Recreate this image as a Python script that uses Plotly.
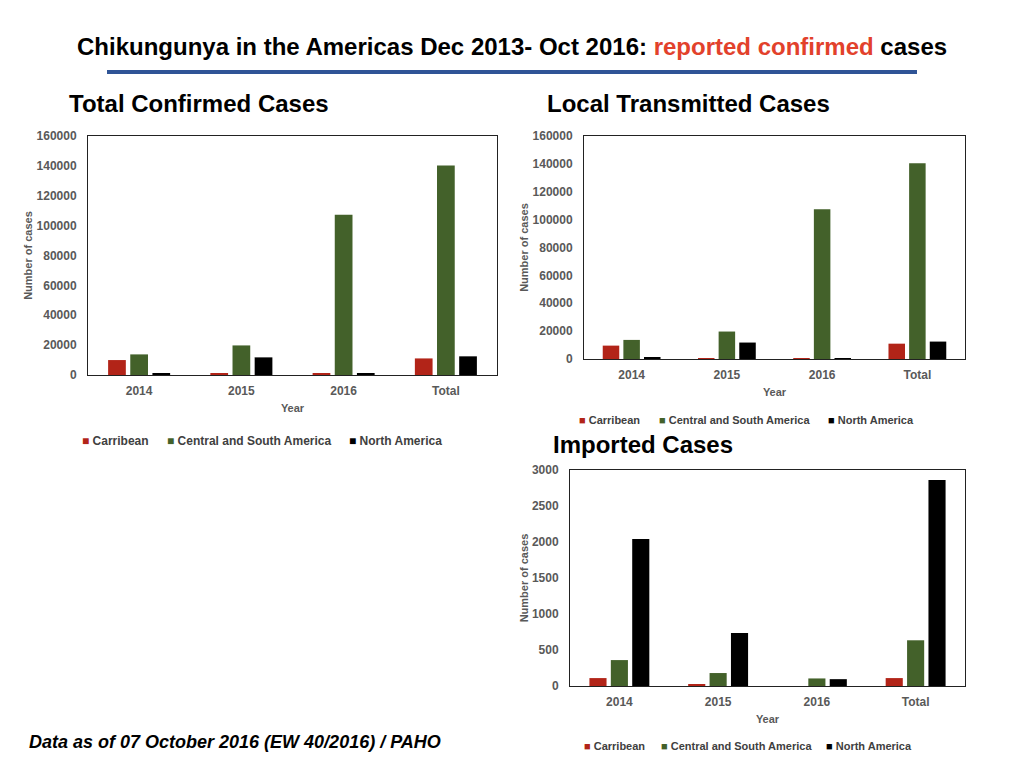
import plotly.graph_objects as go

# ---- data ----
YEARS = ["2014", "2015", "2016", "Total"]
REGIONS = ["Carribean", "Central and South America", "North America"]
COLORS = ["#B22418", "#43612A", "#000000"]

total_carib = [10000, 900, 900, 11100]
total_csa = [13800, 19800, 107300, 140200]
total_na = [1100, 11800, 1000, 12500]

local_carib = [9600, 700, 700, 11000]
local_csa = [13700, 19700, 107500, 140400]
local_na = [1000, 11800, 700, 12500]

imp_carib = [110, 20, 0, 110]
imp_csa = [360, 180, 105, 635]
imp_na = [2040, 735, 95, 2860]

FONT = "Liberation Sans, Arial, sans-serif"
GREY = "#595959"

# page has an 8px body margin, so work in screen pixels and convert
W, H = 1016, 760


def px(x):
    return (x - 8) / W


def py(y):
    return 1 - (y - 8) / H


fig = go.Figure()

panels = [
    ("x", "y", [total_carib, total_csa, total_na]),
    ("x2", "y2", [local_carib, local_csa, local_na]),
    ("x3", "y3", [imp_carib, imp_csa, imp_na]),
]
for xa, ya, series in panels:
    for name, vals, col in zip(REGIONS, series, COLORS):
        fig.add_trace(go.Bar(x=YEARS, y=vals, name=name, marker_color=col,
                             marker_line_width=0, xaxis=xa, yaxis=ya,
                             showlegend=False, hoverinfo="x+y+name"))

tick_font = dict(family=FONT, size=12, color=GREY, weight="bold")
title_font = dict(family=FONT, size=11, color=GREY, weight="bold")


def xaxis(x0, x1, anchor):
    return dict(domain=[px(x0), px(x1)], anchor=anchor, showline=True, mirror=True,
                linecolor="#222", linewidth=1, ticks="", showgrid=False,
                tickfont=tick_font, ticklabelstandoff=5, automargin=False,
                title=dict(text="Year", font=title_font, standoff=6))


def yaxis(y0, y1, anchor, rng, dtick):
    return dict(domain=[py(y1), py(y0)], anchor=anchor, range=rng, dtick=dtick,
                showline=True, mirror=True, linecolor="#222", linewidth=1,
                showgrid=False, zeroline=False, ticks="", tickfont=tick_font,
                tickformat="d", ticklabelstandoff=8, automargin=False,
                title=dict(text="Number of cases", font=title_font, standoff=1))


fig.update_layout(
    width=W, height=H,
    margin=dict(l=0, r=0, t=0, b=0),
    paper_bgcolor="white", plot_bgcolor="white",
    font=dict(family=FONT, color=GREY),
    barmode="group", bargap=0.35, bargroupgap=0.2,
    xaxis=xaxis(88, 497, "y"),
    yaxis=yaxis(136, 375, "x", [0, 160000], 20000),
    xaxis2=xaxis(584, 965, "y2"),
    yaxis2=yaxis(136, 359, "x2", [0, 160000], 20000),
    xaxis3=xaxis(570, 965, "y3"),
    yaxis3=yaxis(470, 686, "x3", [0, 3000], 500),
)

# ---- legends drawn as text rows, one per chart ----
legend_rows = [(441, 12, [80, 165, 347]),
               (420, 11, [577, 657, 826]),
               (746, 11, [582, 659, 824])]
for ly, fsize, xs in legend_rows:
    for name, col, lx in zip(REGIONS, COLORS, xs):
        fig.add_annotation(
            text=f"<span style='color:{col}'>■</span> {name}",
            x=px(lx), y=py(ly), xref="paper", yref="paper",
            xanchor="left", yanchor="middle", showarrow=False,
            font=dict(family=FONT, size=fsize, color="#404040", weight="bold"))

# ---- slide texts ----
fig.add_annotation(
    text="<b>Chikungunya in the Americas Dec 2013- Oct 2016: "
         "<span style='color:#E2412B'>reported confirmed</span> cases</b>",
    x=px(512), y=py(46), xref="paper", yref="paper", showarrow=False,
    xanchor="center", yanchor="middle",
    font=dict(family=FONT, size=24, color="black"))
fig.add_shape(type="line", xref="paper", yref="paper",
              x0=px(107), x1=px(917), y0=py(72), y1=py(72),
              line=dict(color="#2F5496", width=4))

for txt, tx, ty in [("Total Confirmed Cases", 67, 103),
                    ("Local Transmitted Cases", 545, 103),
                    ("Imported Cases", 551, 444)]:
    fig.add_annotation(text="<b>" + txt + "</b>", x=px(tx), y=py(ty),
                       xref="paper", yref="paper", xanchor="left", yanchor="middle",
                       showarrow=False,
                       font=dict(family=FONT, size=24, color="black"))

fig.add_annotation(text="<b><i>Data as of 07 October 2016 (EW 40/2016) / PAHO</i></b>",
                   x=px(27), y=py(742), xref="paper", yref="paper",
                   xanchor="left", yanchor="middle", showarrow=False,
                   font=dict(family=FONT, size=18, color="black"))

fig.write_html("out.html")
